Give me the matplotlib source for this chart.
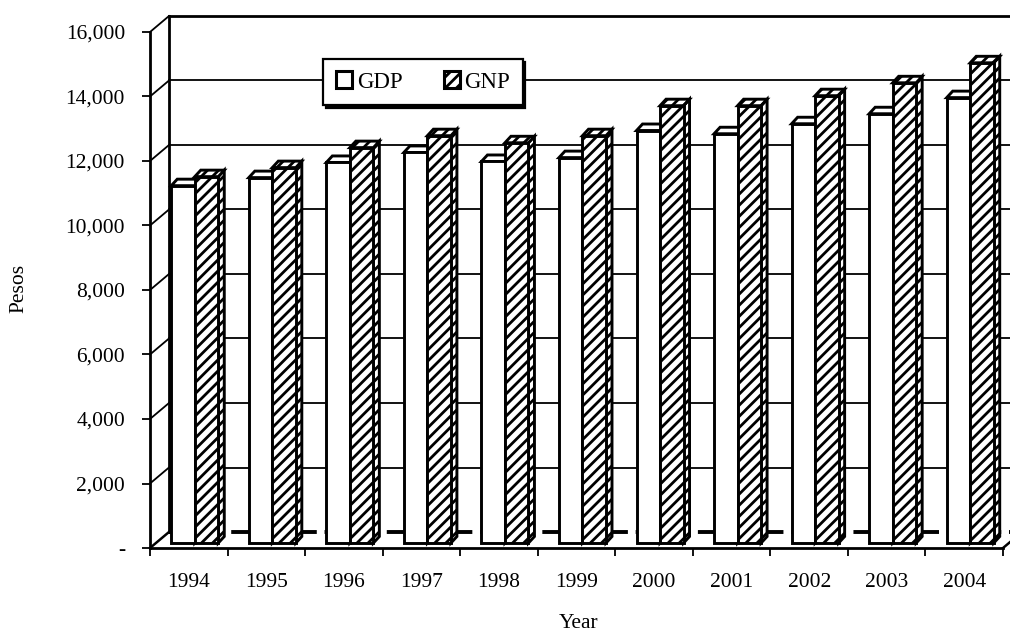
import matplotlib
matplotlib.use("Agg")
import matplotlib.pyplot as plt
from matplotlib.patches import Polygon, Patch
from matplotlib.ticker import FuncFormatter, FixedLocator

years = ["1994", "1995", "1996", "1997", "1998", "1999", "2000", "2001", "2002", "2003", "2004"]
gdp = [11080, 11330, 11800, 12110, 11830, 11950, 12790, 12690, 13000, 13310, 13810]
gnp = [11360, 11640, 12260, 12630, 12410, 12630, 13560, 13560, 13870, 14270, 14890]
y_ticks = [0, 2000, 4000, 6000, 8000, 10000, 12000, 14000, 16000]

plt.rcParams['font.family'] = ['Liberation Serif', 'DejaVu Serif']
plt.rcParams['hatch.linewidth'] = 2.0

fig = plt.figure(figsize=(10.10, 6.34), dpi=100)
W, H = 1010, 634
ax = fig.add_axes([150 / W, (H - 548) / H, 853 / W, 516 / H])
n = len(years)
ax.set_xlim(-0.5, n - 0.5)
ax.set_ylim(0, 16000)

# pixel -> data conversions
px_x = 1 / 77.55
px_y = 1000 / 32.25

# back wall offsets
dxw = 19 * px_x
dyw = 16 * px_y
lc = 'black'
xl, xr = -0.5, n - 0.5
for v in y_ticks[1:]:
    lw = 2.0 if v == 16000 else 1.3
    ax.plot([xl + dxw, xr + dxw], [v + dyw, v + dyw], color=lc, lw=lw, clip_on=False, zorder=1)
    ax.plot([xl, xl + dxw], [v, v + dyw], color=lc, lw=1.3, clip_on=False, zorder=1)
# back floor edge
ax.plot([xl + dxw, xr + dxw], [dyw, dyw], color=lc, lw=2.8, clip_on=False, zorder=1, dashes=(6, 2))
ax.plot([xl, xl + dxw], [0, dyw], color=lc, lw=1.8, clip_on=False, zorder=1)
ax.plot([xr, xr + dxw], [0, dyw], color=lc, lw=1.8, clip_on=False, zorder=1)
# back-left vertical edge
ax.plot([xl + dxw, xl + dxw], [dyw, 16000 + dyw], color=lc, lw=2.0, clip_on=False, zorder=1)

# bars
bw = 23.5 * px_x
bx0 = 6 * px_x
ddx = 6 * px_x
ddy = 6.5 * px_y
base = 5 * px_y


def bar3d(x0, x1, val, hatch, z):
    top = base + val
    kw = dict(facecolor='white', edgecolor='black', lw=2.1, hatch=hatch, zorder=z, clip_on=False)
    ax.add_patch(Polygon([(x1, base), (x1 + ddx, base + ddy), (x1 + ddx, top + ddy), (x1, top)], **kw))
    ax.add_patch(Polygon([(x0, top), (x1, top), (x1 + ddx, top + ddy), (x0 + ddx, top + ddy)], **kw))
    ax.add_patch(Polygon([(x0, base), (x1, base), (x1, top), (x0, top)], **kw))


for i in range(n):
    bar3d(i + bx0 - bw, i + bx0, gdp[i], None, 3)
    bar3d(i + bx0, i + bx0 + bw, gnp[i], '///', 4)

# spines / ticks
for s in ['top', 'right']:
    ax.spines[s].set_visible(False)
ax.spines['left'].set_linewidth(2.0)
ax.spines['bottom'].set_linewidth(2.0)
ax.spines['left'].set_zorder(6)
ax.spines['bottom'].set_zorder(6)
ax.set_facecolor('none')

ax.yaxis.set_major_locator(FixedLocator(y_ticks))
ax.yaxis.set_major_formatter(FuncFormatter(lambda v, p: '-' if v == 0 else f"{int(v):,}"))
ax.tick_params(axis='y', length=6, width=1.3, pad=12, labelsize=15.5)

ax.set_xticks(range(n))
ax.set_xticklabels(years)
ax.set_xticks([i - 0.5 for i in range(n + 1)], minor=True)
ax.tick_params(axis='x', which='major', length=0, pad=18, labelsize=15.5)
ax.tick_params(axis='x', which='minor', length=6, width=1.3)

fig.text(19 / W, 1 - 288 / H, 'Pesos', rotation=90, ha='center', va='center', fontsize=15.5)
fig.text(579 / W, 1 - 624 / H, 'Year', ha='center', va='center', fontsize=15.5)

handles = [Patch(facecolor='white', edgecolor='black', lw=2.2),
           Patch(facecolor='white', edgecolor='black', lw=2.2, hatch='///')]
leg = fig.legend(handles, ['GDP', 'GNP'], loc='center', bbox_to_anchor=(423 / W, 1 - 82 / H),
                 ncol=2, frameon=True, fancybox=False, shadow={'color': 'black', 'alpha': 1},
                 edgecolor='black', handlelength=0.7, handleheight=0.7, handletextpad=0.2,
                 columnspacing=1.8, borderpad=0.55, fontsize=16.5)
leg.get_frame().set_linewidth(1.6)
leg.set_zorder(10)

fig.savefig('out.png', dpi=100)
